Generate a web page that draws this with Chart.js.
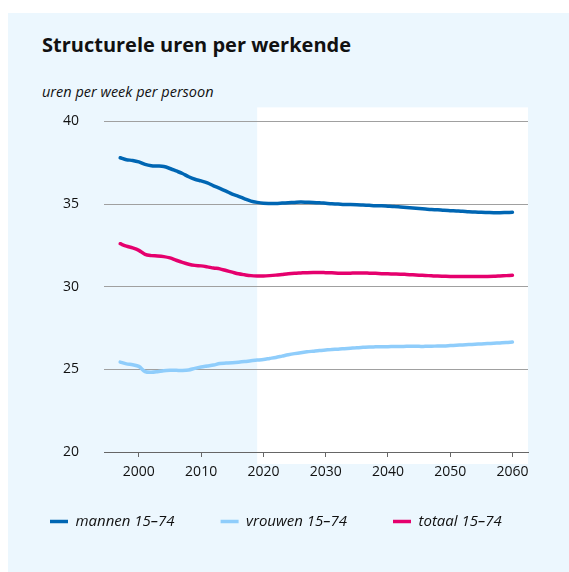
<!DOCTYPE html>
<html>
<head>
<meta charset="utf-8">
<script src="https://cdn.jsdelivr.net/npm/chart.js@4"></script>
<style>
  html, body { margin: 0; padding: 0; background: #fff; overflow: hidden; }
  body { width: 569px; height: 572px; position: relative; }
  #panel { position: absolute; left: 8px; top: 13px; width: 561px; height: 559px; background: #ecf7fe; }
  #title { position: absolute; left: 42px; top: 31px; margin: 0; font: bold 20px "Open Sans", sans-serif; color: #111; }
  #subtitle { position: absolute; left: 42px; top: 82px; margin: 0; font: italic 14.5px "Open Sans", sans-serif; color: #111; }
  #wrap { position: absolute; left: 4px; top: 88px; width: 565px; height: 465px; }
</style>
</head>
<body>
<div id="panel"></div>
<h1 id="title">Structurele uren per werkende</h1>
<p id="subtitle">uren per week per persoon</p>
<div id="wrap"><canvas id="urenChart"></canvas></div>
<script>
const years = [
  1997, 1998, 1999, 2000, 2001, 2002, 2003, 2004, 2005, 2006, 2007, 2008, 2009,
  2010, 2011, 2012, 2013, 2014, 2015, 2016, 2017, 2018, 2019, 2020, 2021, 2022,
  2023, 2024, 2025, 2026, 2027, 2028, 2029, 2030, 2031, 2032, 2033, 2034, 2035,
  2036, 2037, 2038, 2039, 2040, 2041, 2042, 2043, 2044, 2045, 2046, 2047, 2048,
  2049, 2050, 2051, 2052, 2053, 2054, 2055, 2056, 2057, 2058, 2059, 2060,
];
const mannen = [
  37.8, 37.68, 37.64, 37.55, 37.4, 37.32, 37.3, 37.27, 37.15, 37.0, 36.85, 36.65, 36.5,
  36.4, 36.28, 36.1, 35.95, 35.78, 35.6, 35.47, 35.32, 35.18, 35.1, 35.05, 35.04, 35.04,
  35.06, 35.08, 35.1, 35.12, 35.11, 35.1, 35.08, 35.05, 35.02, 35.0, 34.97, 34.97, 34.96,
  34.94, 34.92, 34.9, 34.89, 34.87, 34.85, 34.82, 34.79, 34.76, 34.73, 34.7, 34.67, 34.65,
  34.62, 34.6, 34.58, 34.56, 34.53, 34.52, 34.5, 34.49, 34.48, 34.48, 34.49, 34.5,
];
const vrouwen = [
  25.44, 25.33, 25.28, 25.18, 24.86, 24.82, 24.86, 24.92, 24.94, 24.94, 24.93, 24.96, 25.06,
  25.14, 25.2, 25.26, 25.36, 25.38, 25.4, 25.43, 25.47, 25.52, 25.56, 25.6, 25.66, 25.72,
  25.8, 25.88, 25.95, 26.01, 26.06, 26.1, 26.14, 26.17, 26.2, 26.22, 26.25, 26.28, 26.31,
  26.33, 26.35, 26.36, 26.37, 26.37, 26.38, 26.38, 26.39, 26.39, 26.39, 26.39, 26.4, 26.41,
  26.42, 26.44, 26.46, 26.48, 26.5, 26.52, 26.54, 26.56, 26.58, 26.6, 26.62, 26.65,
];
const totaal = [
  32.6, 32.45, 32.35, 32.2, 31.95, 31.88, 31.86, 31.82, 31.74, 31.6, 31.47, 31.36, 31.29,
  31.26, 31.2, 31.13, 31.08, 30.98, 30.88, 30.78, 30.72, 30.67, 30.65, 30.65, 30.67, 30.7,
  30.74, 30.78, 30.81, 30.83, 30.85, 30.86, 30.86, 30.85, 30.84, 30.82, 30.81, 30.82, 30.83,
  30.83, 30.82, 30.81, 30.79, 30.78, 30.77, 30.76, 30.74, 30.72, 30.7, 30.68, 30.66, 30.64,
  30.63, 30.62, 30.62, 30.62, 30.62, 30.62, 30.62, 30.62, 30.63, 30.65, 30.67, 30.69,
];
const xTicks = [2000, 2010, 2020, 2030, 2040, 2050, 2060];
const yTicks = [20, 25, 30, 35, 40];
const projectionStart = 2019;

const toPoints = (vals) => vals.map((v, i) => ({ x: years[i], y: v }));

// witte achtergrond voor de prognoseperiode
const projectionBg = {
  id: "projectionBg",
  beforeDraw(chart) {
    const { ctx, chartArea, scales } = chart;
    const left = scales.x.getPixelForValue(projectionStart);
    ctx.save();
    ctx.fillStyle = "#ffffff";
    ctx.fillRect(left, chartArea.top - 14, chartArea.right - left, chartArea.bottom - chartArea.top + 26);
    ctx.restore();
  },
};

// legenda iets omhoog schuiven (padding geldt ook verticaal)
const legendShift = {
  id: "legendShift",
  afterLayout(chart) {
    chart.legend.top -= 14;
    chart.legend.bottom -= 14;
  },
};

const font = { family: "'Open Sans', sans-serif", size: 14 };

new Chart(document.getElementById("urenChart"), {
  type: "line",
  data: {
    datasets: [
      {
        label: "mannen 15–74",
        data: toPoints(mannen),
        borderColor: "#0066b3",
        backgroundColor: "#0066b3",
        borderWidth: 3.5,
      },
      {
        label: "vrouwen 15–74",
        data: toPoints(vrouwen),
        borderColor: "#8fcdfb",
        backgroundColor: "#8fcdfb",
        borderWidth: 3.5,
      },
      {
        label: "totaal 15–74",
        data: toPoints(totaal),
        borderColor: "#e5006d",
        backgroundColor: "#e5006d",
        borderWidth: 3.5,
      },
    ],
  },
  options: {
    responsive: true,
    maintainAspectRatio: false,
    animation: false,
    layout: { padding: 0 },
    elements: {
      point: { radius: 0 },
      line: { tension: 0.3, borderCapStyle: "round" },
    },
    plugins: {
      tooltip: { enabled: false },
      legend: {
        position: "bottom",
        align: "start",
        labels: {
          usePointStyle: true,
          pointStyle: "line",
          pointStyleWidth: 18,
          padding: 46,
          color: "#111",
          font: { ...font, size: 15, style: "italic" },
        },
      },
    },
    scales: {
      x: {
        type: "linear",
        min: 1994.4,
        max: 2062.5,
        afterBuildTicks: (scale) => { scale.ticks = xTicks.map((v) => ({ value: v })); },
        afterFit: (scale) => { scale.height = 30; },
        grid: { drawOnChartArea: false, drawTicks: true, tickLength: 5, color: "#666" },
        border: { display: true, color: "#666", width: 1 },
        ticks: { color: "#111", font, padding: 7, maxRotation: 0, callback: (v) => String(v) },
      },
      y: {
        min: 20,
        max: 40,
        afterBuildTicks: (scale) => { scale.ticks = yTicks.map((v) => ({ value: v })); },
        afterFit: (scale) => { scale.width = 100; },
        grid: { drawTicks: false, color: "#a0a0a0", lineWidth: 1 },
        border: { display: false },
        ticks: { color: "#111", font, padding: 25 },
      },
      // lege as rechts: houdt ruimte vrij zonder de legenda te versmallen
      yRight: {
        position: "right",
        min: 20,
        max: 40,
        afterFit: (scale) => { scale.width = 41; },
        grid: { display: false },
        border: { display: false },
        ticks: { display: false },
      },
    },
  },
  plugins: [projectionBg, legendShift],
});
</script>
</body>
</html>
